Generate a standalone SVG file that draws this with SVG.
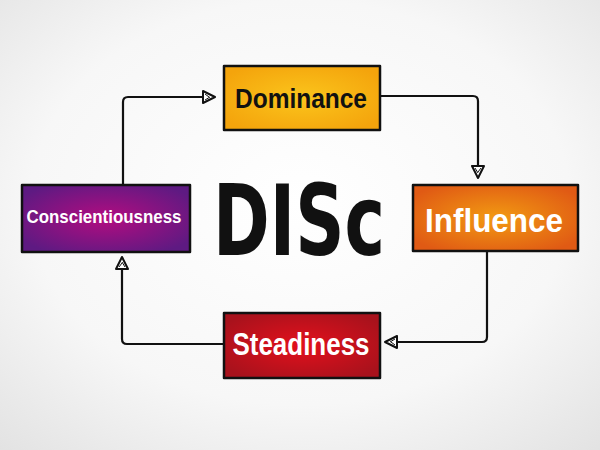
<svg xmlns="http://www.w3.org/2000/svg" width="600" height="450" viewBox="0 0 600 450">
<defs>
<radialGradient id="bg" cx="50%" cy="45%" r="75%">
<stop offset="0" stop-color="#ffffff"/><stop offset="0.6" stop-color="#f7f7f7"/><stop offset="1" stop-color="#e2e2e2"/>
</radialGradient>
<radialGradient id="gD" cx="50%" cy="50%" r="60%"><stop offset="0" stop-color="#fbc51c"/><stop offset="1" stop-color="#f4a40c"/></radialGradient>
<radialGradient id="gI" cx="50%" cy="50%" r="60%"><stop offset="0" stop-color="#f29a12"/><stop offset="1" stop-color="#e05a14"/></radialGradient>
<radialGradient id="gS" cx="50%" cy="50%" r="60%"><stop offset="0" stop-color="#e3101c"/><stop offset="1" stop-color="#a8121c"/></radialGradient>
<radialGradient id="gC" cx="50%" cy="50%" r="60%"><stop offset="0" stop-color="#b30c80"/><stop offset="1" stop-color="#5e1a82"/></radialGradient>
<marker id="ah" viewBox="0 0 14 14" refX="13" refY="7" markerWidth="14" markerHeight="14" markerUnits="userSpaceOnUse" orient="auto">
<path d="M1,1 L13,7 L1,13 Z" fill="#ffffff" stroke="#111" stroke-width="2" stroke-linejoin="round"/>
<path d="M3,4 L7,7 M3,10 L8,7" stroke="#111" stroke-width="1"/>
</marker>
<style>
.box{stroke:#111;stroke-width:2.5;stroke-linejoin:round}
.lbl{font-family:"Liberation Sans","DejaVu Sans",sans-serif;font-weight:bold;text-anchor:middle}
.conn{fill:none;stroke:#111;stroke-width:2.2;stroke-linejoin:round;marker-end:url(#ah)}
</style>
</defs>
<rect width="600" height="450" fill="url(#bg)"/>
<g id="connectors">
<path class="conn" d="M123,185 L123,102 Q123,97 128,97 L215,97"/>
<path class="conn" d="M380,96 L473,96 Q478,96 478,101 L478,178"/>
<path class="conn" d="M487,251 L487,337 Q487,342 482,342 L385,342"/>
<path class="conn" d="M224,344 L127,344 Q122,344 122,339 L122,257"/>
</g>
<g id="center">
<text transform="translate(299,255) scale(1,1.4)" class="lbl" font-size="70" fill="#111" textLength="172" lengthAdjust="spacingAndGlyphs" style="font-family:'DejaVu Sans',sans-serif">DISc</text>
</g>
<g id="dominance">
<rect class="box" x="224" y="66" width="156" height="64" fill="url(#gD)"/>
<text class="lbl" x="301" y="108" font-size="27" fill="#111" textLength="132" lengthAdjust="spacingAndGlyphs">Dominance</text>
</g>
<g id="influence">
<rect class="box" x="413" y="185" width="165" height="66" fill="url(#gI)"/>
<text class="lbl" x="494" y="232" font-size="34" fill="#fff" textLength="138" lengthAdjust="spacingAndGlyphs">Influence</text>
</g>
<g id="steadiness">
<rect class="box" x="224" y="313" width="156" height="65" fill="url(#gS)"/>
<text class="lbl" x="301" y="355" font-size="31" fill="#fff" textLength="137" lengthAdjust="spacingAndGlyphs">Steadiness</text>
</g>
<g id="conscientiousness">
<rect class="box" x="22" y="185" width="168" height="67" fill="url(#gC)"/>
<text class="lbl" x="104" y="223" font-size="18" fill="#fff" textLength="155" lengthAdjust="spacingAndGlyphs">Conscientiousness</text>
</g>
</svg>
